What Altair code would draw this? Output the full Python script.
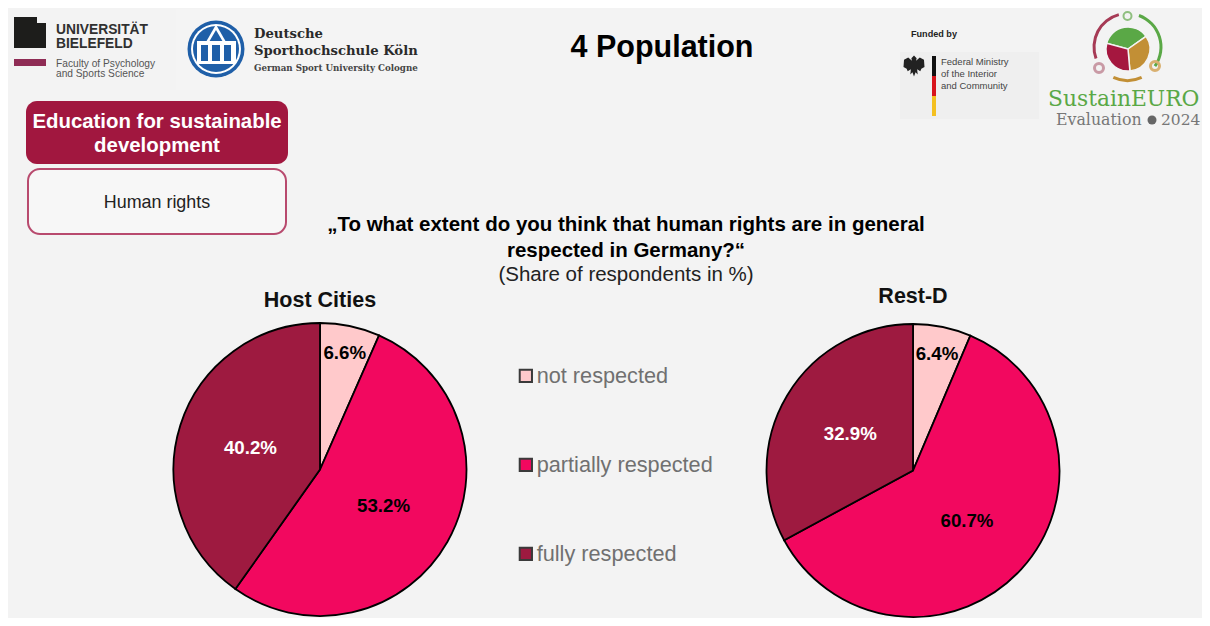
import math
import altair as alt
import pandas as pd

categories = ["not respected", "partially respected", "fully respected"]
host_values = [6.6, 53.2, 40.2]
rest_values = [6.4, 60.7, 32.9]
label_radius = [120, 73, 73]
colors = ["#FFC9CB", "#F2085F", "#9E1A40"]
FONT = "Liberation Sans"
EAGLE = ("M0,-1 L0.25,-0.75 L0.2,-0.5 L0.55,-0.8 L0.95,-0.6 L1,0.1 L0.7,0.25 L0.6,0.5 L0.3,0.3 "
         "L0.35,0.8 L0.15,0.6 L0,1 L-0.15,0.6 L-0.35,0.8 L-0.3,0.3 L-0.6,0.5 L-0.7,0.25 L-1,0.1 "
         "L-0.95,-0.6 L-0.55,-0.8 L-0.2,-0.5 L-0.25,-0.75 Z")
one = pd.DataFrame({"a": [0]})


def X(v):
    return alt.value(v - 8)


def Y(v):
    return alt.value(v - 8)


def text(s, x, y, size, color="#000000", weight="normal", align="center", font=FONT):
    return alt.Chart(one).mark_text(
        text=s, fontSize=size, color=color, fontWeight=weight, align=align,
        baseline="middle", font=font
    ).encode(x=X(x), y=Y(y + 1))


def rect(x0, x1, y0, y1, fill, stroke=None, sw=0, r=0):
    kw = dict(fill=fill, cornerRadius=r)
    if stroke:
        kw.update(stroke=stroke, strokeWidth=sw)
    return alt.Chart(one).mark_rect(**kw).encode(x=X(x0), x2=X(x1), y=Y(y0), y2=Y(y1))


def dot(x, y, d, fill, shape="circle"):
    return alt.Chart(one).mark_point(filled=True, fill=fill, opacity=1, size=d * d, shape=shape).encode(x=X(x), y=Y(y))


def seg(cx, cy, r0, r1, a0, a1, fill, stroke=None):
    kw = dict(innerRadius=r0, outerRadius=r1, theta=math.radians(a0), theta2=math.radians(a1), fill=fill)
    if stroke:
        kw.update(stroke=stroke, strokeWidth=1.5)
    return alt.Chart(one).mark_arc(**kw).encode(x=X(cx), y=Y(cy))


def pie(values, cx, cy, show_legend):
    df = pd.DataFrame({"cat": categories, "value": values, "idx": [0, 1, 2], "lr": label_radius})
    df["mid"] = df["value"].cumsum() - df["value"] / 2
    theta_scale = alt.Scale(domain=[0, 100])
    legend = None
    if show_legend:
        legend = alt.Legend(
            orient="none", legendX=515 - 8, legendY=365 - 8, title=None, direction="vertical",
            symbolType="square", symbolSize=150, symbolStrokeColor="#3a3a3a", symbolStrokeWidth=2,
            labelFont=FONT, labelFontSize=21.7, labelColor="#707070", labelOffset=0, rowPadding=66,
            symbolOpacity=1, labelLimit=400,
        )
    arcs = alt.Chart(df).mark_arc(outerRadius=146.5, stroke="#000000", strokeWidth=1.8).encode(
        x=X(cx), y=Y(cy),
        theta=alt.Theta("value:Q", stack=True, scale=theta_scale),
        order=alt.Order("idx:Q"),
        color=alt.Color("cat:N", scale=alt.Scale(domain=categories, range=colors), legend=legend),
    )
    labels = alt.Chart(df).transform_calculate(
        label="format(datum.value, '.1f') + '%'"
    ).mark_text(fontSize=18.7, fontWeight="bold", font=FONT, baseline="middle").encode(
        x=X(cx), y=Y(cy + 1),
        theta=alt.Theta("mid:Q", stack=False, scale=theta_scale),
        radius=alt.Radius("lr:Q", scale=None),
        text=alt.Text("label:N"),
        color=alt.condition(alt.datum.cat == "fully respected", alt.value("#ffffff"), alt.value("#000000")),
    )
    return arcs, labels


a1, l1 = pie(host_values, 320, 469.5, True)
a2, l2 = pie(rest_values, 913, 470.5, False)

SERIF = "DejaVu Serif"
layers = [
    # panels
    rect(176, 440, 9, 90, "#f4f4f4"),
    rect(900, 1039, 52, 119, "#efefef"),
    # Bielefeld logo
    rect(14, 46, 23, 48, "#1d1d1b"),
    rect(14, 37, 17, 24, "#1d1d1b"),
    rect(14, 46, 59, 66, "#8f2c55"),
    text("UNIVERSITÄT", 56, 29, 13.8, "#303030", "bold", "left"),
    text("BIELEFELD", 56, 43, 13.8, "#303030", "bold", "left"),
    text("Faculty of Psychology", 56, 63, 10.2, "#555555", align="left"),
    text("and Sports Science", 56, 73, 10.2, "#555555", align="left"),
    # DSHS logo
    dot(216, 49, 57, "#1f5fa8"),
    dot(216, 49, 50, "#ffffff"),
    dot(216, 49, 46, "#1f5fa8"),
    dot(216, 35, 24, "#ffffff", "triangle-up"),
    dot(216, 36, 14, "#1f5fa8", "triangle-up"),
    rect(197, 236, 41, 64, "#ffffff"),
    rect(201, 208, 45, 61, "#1f5fa8"),
    rect(212, 220, 45, 61, "#1f5fa8"),
    rect(224, 231, 45, 61, "#1f5fa8"),
    text("Deutsche", 254, 33, 13.2, "#2a2a2a", "bold", "left", SERIF),
    text("Sporthochschule Köln", 254, 50, 13.2, "#2a2a2a", "bold", "left", SERIF),
    text("German Sport University Cologne", 254, 67, 8.7, "#444444", "bold", "left", SERIF),
    # Title
    text("4 Population", 662, 47, 30.5, "#000000", "bold"),
    # Section boxes
    rect(26, 288, 101, 164, "#A1173F", r=11),
    text("Education for sustainable", 157, 121, 20.4, "#ffffff", "bold"),
    text("development", 157, 145, 20.4, "#ffffff", "bold"),
    rect(28, 286, 169, 234, "#f7f7f7", "#B84A6E", 2, 12),
    text("Human rights", 157, 202, 17.9, "#222222"),
    # Funded by
    text("Funded by", 911, 33, 9.1, "#222222", "bold", "left"),
    dot(914, 66, 21, "#222222", EAGLE),
    rect(932, 936, 56, 76, "#111111"),
    rect(932, 936, 76, 96, "#d8141c"),
    rect(932, 936, 96, 116, "#f4c020"),
    text("Federal Ministry", 941, 61, 9.5, "#444444", align="left"),
    text("of the Interior", 941, 73, 9.5, "#444444", align="left"),
    text("and Community", 941, 85, 9.5, "#444444", align="left"),
    # SustainEURO logo
    seg(1127.5, 47, 32, 35, 250, 345, "#A63A55"),
    seg(1127.5, 47, 32, 35, 20, 125, "#5AA846"),
    seg(1127.5, 47, 32, 35, 155, 205, "#C28F35"),
    seg(1128, 49, 0, 22, 285, 415, "#5AA846", "#f3f3f3"),
    seg(1128, 49, 0, 22, 55, 175, "#C28F35", "#f3f3f3"),
    seg(1128, 49, 0, 22, 175, 285, "#A5173F", "#f3f3f3"),
    seg(1127.5, 16, 3, 5, 0, 360, "#8fbf7f"),
    seg(1099, 68, 3, 6, 0, 360, "#c99aa5"),
    seg(1155, 66, 3, 6, 0, 360, "#d9b070"),
    text("SustainEURO", 1048, 98, 21.8, "#5AA846", "normal", "left", SERIF),
    text("Evaluation", 1056, 119, 15.8, "#777777", "normal", "left", SERIF),
    dot(1152, 120, 9, "#666666"),
    text("2024", 1161, 119, 15.5, "#777777", "normal", "left", SERIF),
    # Question
    text("„To what extent do you think that human rights are in general", 626, 224, 20.5, "#000000", "bold"),
    text("respected in Germany?“", 626, 250, 20.5, "#000000", "bold"),
    text("(Share of respondents in %)", 626, 274, 20.5, "#222222"),
    text("Host Cities", 320, 300, 21.5, "#111111", "bold"),
    text("Rest-D", 913, 296, 21.5, "#111111", "bold"),
    a1, a2, l1, l2,
]

chart = alt.layer(*layers).properties(
    width=1194, height=610, padding=0, background="#f3f3f3",
    autosize=alt.AutoSizeParams(type="none"),
).configure_view(stroke=None)

chart.save("out.html", embed_options={"renderer": "svg", "actions": False})
